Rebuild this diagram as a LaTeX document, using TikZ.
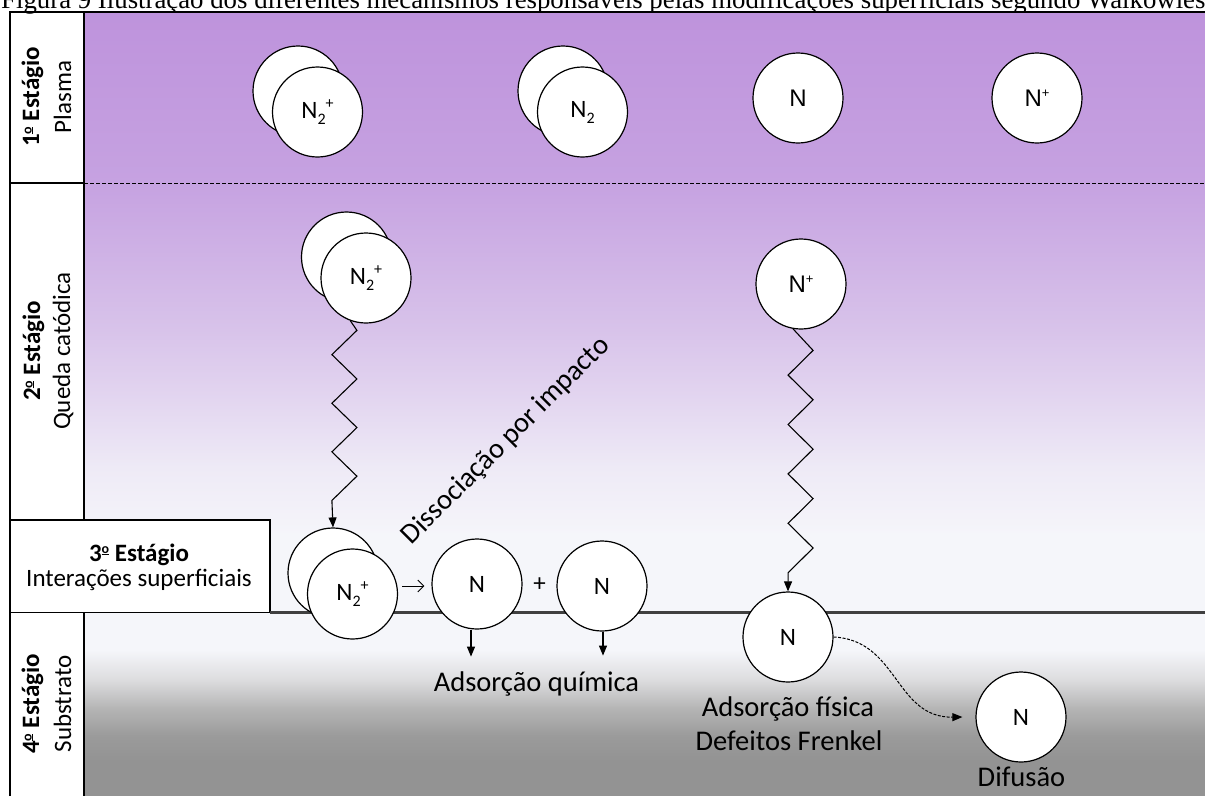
\documentclass[tikz,border=0pt]{standalone}
\usepackage{fontspec}
\setmainfont{Carlito}
\newfontfamily\tnrfont{Liberation Serif}
\newfontfamily\arifont{Liberation Sans}
\usetikzlibrary{arrows.meta,calc}
\definecolor{gA}{HTML}{BE93DC}
\definecolor{gB}{HTML}{C6A2E1}
\definecolor{gC}{HTML}{D8C3EA}
\definecolor{gD}{HTML}{E3D6F0}
\definecolor{gE}{HTML}{EEEAF6}
\definecolor{gF}{HTML}{F5F5FA}
\definecolor{hA}{HTML}{F5F6FA}
\definecolor{hB}{HTML}{DCDCDE}
\definecolor{hC}{HTML}{B6B6B6}
\definecolor{hD}{HTML}{9B9B9B}
\definecolor{hE}{HTML}{939393}
\definecolor{surf}{HTML}{404040}
\newcommand{\NtwoSup}{N\raisebox{-6pt}{\fontsize{16}{16}\selectfont 2}\raisebox{10pt}{\fontsize{16}{16}\selectfont +}}
\newcommand{\NtwoOnly}{N\raisebox{-6pt}{\fontsize{16}{16}\selectfont 2}}
\newcommand{\NPlus}{{\arifont N\raisebox{8.5pt}{\fontsize{13}{13}\selectfont +}}}
\newcommand{\ordo}{\raisebox{0.3em}{\fontsize{14}{14}\selectfont\rlap{\rule[-1.6pt]{0.52em}{1.4pt}}o}}
\begin{document}
\begin{tikzpicture}[x=1pt,y=-1pt,
  atom/.style={circle,draw=black,line width=1.2pt,fill=white,minimum size=90pt,inner sep=0pt,font=\fontsize{25}{25}\selectfont},
  atomA/.style={atom,font=\arifont\fontsize{24}{24}\selectfont},
  txt/.style={inner sep=0pt,font=\fontsize{25}{30}\selectfont},
  txtb/.style={inner sep=0pt,font=\fontsize{25}{30}\selectfont\bfseries},
  big/.style={inner sep=0pt,font=\fontsize{28.5}{34}\selectfont},
  frame/.style={draw=black,line width=1.2pt},
  zz/.style={line width=1.1pt,-{Triangle[length=10pt,width=8pt]}},
  dn/.style={line width=1.1pt,-{Triangle[length=10pt,width=8pt]}},
  rx/.style={line width=0.9pt,-{Straight Barb[length=6pt,width=12pt]}},
  dif/.style={line width=1pt,dash pattern=on 3pt off 1.5pt,-{Triangle[length=10pt,width=8pt]}}]
\useasboundingbox (0,0) rectangle (1205,796);
\begin{scope}
\clip (0,0) rectangle (1205,796);
% title
\node[anchor=base west,inner sep=0pt,font=\tnrfont\fontsize{26.8}{26.8}\selectfont] (title) at (1,8) {Figura 9 Ilustração dos diferentes mecanismos responsáveis pelas modificações superficiais segundo Walkowies};
% backgrounds plasma
\shade[top color=gA,bottom color=gB] (84,12) rectangle (1205,183.6);
\shade[top color=gB,bottom color=gC] (84,183) rectangle (1205,330.6);
\shade[top color=gC,bottom color=gD] (84,330) rectangle (1205,400.6);
\shade[top color=gD,bottom color=gE] (84,400) rectangle (1205,467.6);
\shade[top color=gE,bottom color=gF] (84,467) rectangle (1205,533.6);
\fill[hA] (84,533) rectangle (1205,612);
% backgrounds substrate
\fill[hA] (84,612) rectangle (1205,650.6);
\shade[top color=hA,bottom color=hB] (84,650) rectangle (1205,680.6);
\shade[top color=hB,bottom color=hC] (84,680) rectangle (1205,707.6);
\shade[top color=hC,bottom color=hD] (84,707) rectangle (1205,735.6);
\shade[top color=hD,bottom color=hE] (84,735) rectangle (1205,760.6);
\fill[hE] (84,760) rectangle (1205,796);
% frame
\draw[frame] (10,796) -- (10,12) -- (1205,12);
\draw[frame] (84,12) -- (84,520);
\draw[frame] (10,183) -- (84,183);
\draw[line width=1pt,dash pattern=on 4pt off 2pt] (84,183) -- (1205,183);
\draw[frame,fill=white] (10,520) rectangle (270,612.5);
\draw[frame] (84,612.5) -- (84,796);
\draw[surf,line width=3pt] (270,612) -- (1205,612);
% stage labels
\node[txtb,rotate=90,anchor=base] (l1a) at (39,97) {1\ordo{} Estágio};
\node[txt,rotate=90,anchor=base] (l1b) at (71,97) {Plasma};
\node[txtb,rotate=90,anchor=base] (l2a) at (40,351) {2\ordo{} Estágio};
\node[txt,rotate=90,anchor=base] (l2b) at (70,351) {Queda catódica};
\node[txtb,anchor=base] (l3a) at (139,561) {3\ordo{} Estágio};
\node[txt,anchor=base] (l3b) at (139,586) {Interações superficiais};
\node[txtb,rotate=90,anchor=base] (l4a) at (39,704) {4\ordo{} Estágio};
\node[txt,rotate=90,anchor=base] (l4b) at (71,704) {Substrato};
% stage 1 particles
\node[atom] (p1b) at (298,91) {};
\node[atom] (p1f) at (317.5,112) {\NtwoSup};
\node[atom] (p2b) at (563,91) {};
\node[atom] (p2f) at (582.5,112) {\NtwoOnly};
\node[atomA] (p3) at (798,98) {N};
\node[atomA] (p4) at (1037,98) {\NPlus};
% stage 2 particles
\node[atom] (s2b) at (346.5,257) {};
\node[atom] (s2f) at (366,278) {\NtwoSup};
\node[atomA] (s2n) at (801,284) {\NPlus};
% stage 3 particles
\node[atom] (s3b) at (333,573) {};
\node[atom] (s3f) at (352.5,594) {\NtwoSup};
\node[atom] (nA) at (477,584) {N};
\node[atom] (nB) at (602,586) {N};
\node[txt] (plus) at ($(nA.east)!0.5!(nB.west)$) {+};
% stage 4 particles
\node[atom] (s4n) at (788,637) {N};
\node[atom] (s4d) at (1021,717) {N};
% zigzag arrows
\draw[zz] (s2f.250) -- ++(6.5,9.5) -- ++(-25,24.3) -- ++(25,24.3) -- ++(-25,24.3) -- ++(25,24.3) -- ++(-25,24.3) -- ++(25,24.3) -- ++(-25,24.3) -- (s3b.north);
\draw[zz] (s2n.260) -- ++(20,21.5) -- ++(-25,24.7) -- ++(25,24.7) -- ++(-25,24.7) -- ++(25,24.7) -- ++(-25,24.7) -- ++(25,24.7) -- ++(-25,24.7) -- ++(25,24.7) -- ++(-25,24.7) -- (s4n.north);
% reaction
\draw[rx] ([shift={(4,2)}]s3f.east |- nA) -- ([shift={(-7,2)}]nA.west);
\draw[dn] ([xshift=-6pt]nA.south) -- ++(0,27);
\draw[dn] ([xshift=1pt]nB.south) -- ++(0,24);
\draw[dif] (s4n.east) .. controls (898,640) and (895,718) .. ([xshift=-13pt]s4d.west);
% labels
\node[big,rotate=45] (diss) at (506,441) {Dissociação por impacto};
\node[big,anchor=base] (adq) at (536.5,691.5) {Adsorção química};
\node[big,anchor=base] (adf) at (788,716) {Adsorção física};
\node[big,anchor=base] (dfr) at (789,750.5) {Defeitos Frenkel};
\node[big,anchor=base] (difl) at (1021.5,786) {Difusão};
\end{scope}
\end{tikzpicture}
\end{document}
